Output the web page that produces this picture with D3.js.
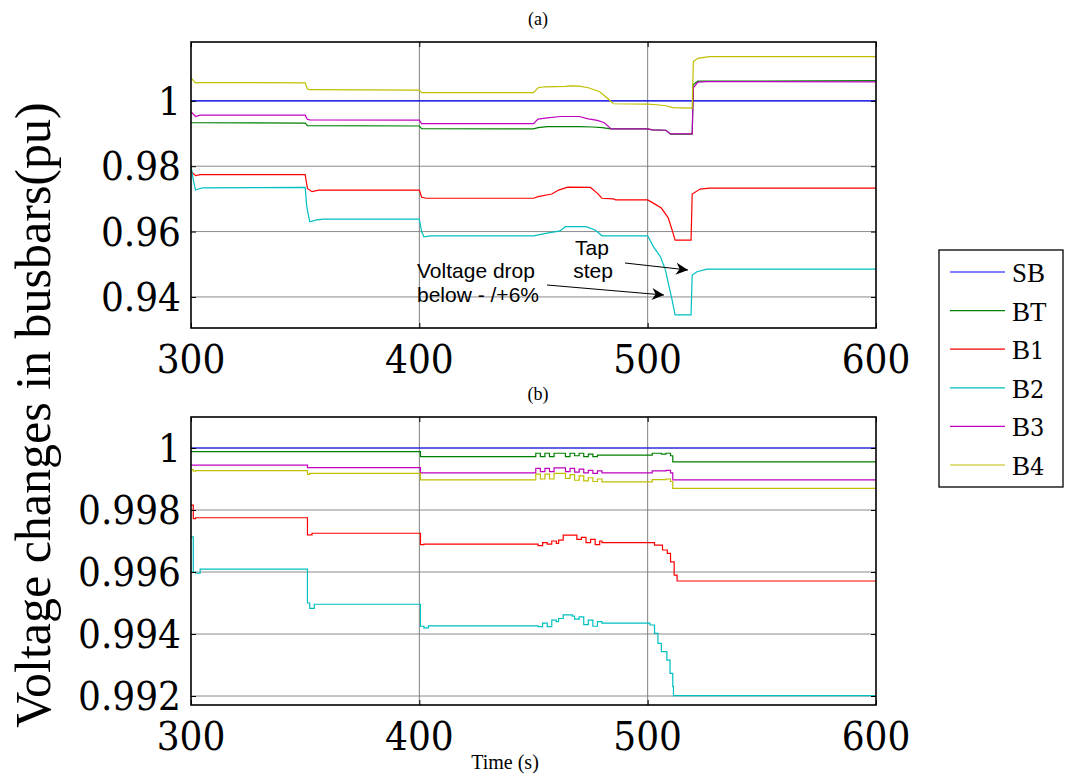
<!DOCTYPE html>
<html>
<head>
<meta charset="utf-8">
<script src="https://cdn.jsdelivr.net/npm/d3@7"></script>
<style>
  html, body { margin: 0; padding: 0; background: #fff; }
  svg { display: block; }
</style>
</head>
<body>
<svg id="chart" width="1067" height="777"></svg>
<script>
// ---------------- DATA ----------------
const seriesNames = ["SB", "BT", "B1", "B2", "B3", "B4"];
const xTicks = [300, 400, 500, 600];
const yTicksA = [0.94, 0.96, 0.98, 1];
const yTicksB = [0.992, 0.994, 0.996, 0.998, 1];
const xDomain = [300, 600];
const yDomainA = [0.9305, 1.018];
const yDomainB = [0.99171, 1.001];

// Panel (a): [time s, voltage pu]
const a_SB = [[300, 1.0], [600, 1.0]];
const a_BT = [[300,0.9933],[350,0.9932],[351,0.9924],[400,0.9923],[401,0.9915],[450,0.9914],[452,0.9918],[456,0.9921],[470,0.9921],[476,0.9920],[480,0.9918],[484,0.9914],[500,0.9914],[502,0.9911],[508,0.9910],[510,0.9898],[519.5,0.9898],[520,1.0050],[522,1.0060],[600,1.0062]];
const a_B1 = [[300,0.9784],[302,0.9771],[304,0.9774],[350,0.9774],[351,0.9732],[353,0.9722],[356,0.9727],[400,0.9727],[401,0.9705],[403,0.9702],[450,0.9702],[452,0.9707],[458,0.9715],[461,0.9727],[465,0.9736],[475,0.9735],[478,0.9717],[480,0.9702],[485,0.9700],[486,0.9697],[500,0.9697],[502.5,0.9687],[506,0.9672],[509,0.9642],[510.7,0.9605],[512,0.9574],[519,0.9574],[519.5,0.9715],[523,0.9730],[527,0.9733],[600,0.9733]];
const a_B2 = [[300,0.9800],[301,0.9758],[302,0.9727],[305,0.9734],[350,0.9735],[350.7,0.9676],[352,0.9630],[355,0.9636],[358,0.9638],[400,0.9638],[401,0.9600],[402,0.9584],[405,0.9587],[450,0.9587],[456,0.9595],[461.6,0.9602],[464,0.9615],[473,0.9615],[477,0.9605],[480,0.9587],[500,0.9587],[501,0.9574],[502.5,0.9554],[505.6,0.9523],[507.8,0.9482],[509,0.9443],[510.7,0.9391],[512,0.9345],[519,0.9345],[519.5,0.9467],[521.6,0.9477],[526,0.9485],[600,0.9485]];
const a_B3 = [[300,0.9967],[302,0.9952],[304,0.9956],[350,0.9956],[351,0.9943],[352,0.9942],[400,0.9941],[401,0.9930],[450,0.9930],[452,0.9944],[456,0.9948],[462,0.9952],[470,0.9952],[474,0.9945],[478,0.9940],[481,0.9933],[484,0.9914],[500,0.9914],[502,0.9911],[508,0.9910],[510,0.9899],[519.5,0.9899],[520,1.0040],[522,1.0057],[526,1.0059],[600,1.0058]];
const a_B4 = [[300,1.0070],[302,1.0055],[304,1.0056],[350,1.0055],[351,1.0036],[352,1.0034],[400,1.0033],[401,1.0025],[450,1.0025],[452,1.0040],[455,1.0043],[464,1.0044],[466,1.0046],[470,1.0045],[474,1.0040],[479,1.0028],[482,1.0010],[485,0.9991],[500,0.9990],[504,0.9988],[508,0.9985],[511,0.9979],[519.5,0.9978],[520,1.0120],[522,1.0130],[527,1.0135],[600,1.0135]];

// Panel (b)
const b_SB = [[300, 1.0], [600, 1.0]];
const b_BT = [[300,0.99988],[400,0.99988],[400.5,0.99972],[450,0.99972],[451,0.99983],[453,0.99972],[455,0.99983],[457,0.99972],[459,0.99983],[463,0.99983],[464,0.99972],[466,0.99983],[468,0.99975],[470,0.99983],[472,0.99972],[474,0.99980],[476,0.99972],[478,0.99977],[500,0.99977],[502,0.99983],[506,0.99980],[508,0.99983],[510,0.99975],[511,0.99955],[600,0.99955]];
const b_B1 = [[300,0.99816],[301,0.99772],[302,0.99775],[350,0.99775],[351,0.99720],[353,0.99725],[400,0.99725],[400.5,0.99688],[402,0.99690],[450,0.99690],[452,0.99685],[454,0.99695],[456,0.99690],[458,0.99700],[460,0.99692],[461,0.99703],[463,0.99719],[468,0.99719],[469,0.99705],[471,0.99712],[473,0.99695],[475,0.99705],[477,0.99688],[479,0.99700],[480,0.99695],[500,0.99695],[503,0.99687],[506.5,0.99671],[508.6,0.99660],[510,0.99633],[511.6,0.99590],[512.9,0.99571],[600,0.99571]];
const b_B2 = [[300,0.99713],[301,0.99600],[302,0.99596],[304,0.99609],[350,0.99609],[351,0.99500],[352,0.99483],[354,0.99496],[400,0.99496],[400.5,0.99425],[402,0.99420],[404,0.99426],[450,0.99426],[452,0.99424],[454,0.99435],[456,0.99424],[458,0.99445],[460,0.99440],[461,0.99450],[463,0.99462],[467,0.99458],[468,0.99448],[470,0.99455],[472,0.99430],[474,0.99445],[476,0.99425],[478,0.99440],[480,0.99435],[500,0.99435],[501,0.99429],[503,0.99402],[504.5,0.99370],[506,0.99343],[508.4,0.99316],[509.8,0.99273],[511,0.99230],[511.3,0.99201],[600,0.99201]];
const b_B3 = [[300,0.99945],[350,0.99945],[351,0.99937],[400,0.99937],[400.5,0.99920],[450,0.99920],[451,0.99934],[453,0.99924],[455,0.99934],[457,0.99924],[459,0.99936],[463,0.99936],[464,0.99924],[466,0.99934],[468,0.99922],[470,0.99932],[472,0.99920],[474,0.99928],[476,0.99918],[478,0.99926],[480,0.99920],[500,0.99920],[502,0.99926],[508,0.99928],[510,0.99920],[511,0.99897],[600,0.99897]];
const b_B4 = [[300,0.99930],[301,0.99925],[302,0.99927],[350,0.99927],[351,0.99915],[352,0.99918],[400,0.99918],[400.5,0.99897],[450,0.99897],[451,0.99916],[453,0.99900],[455,0.99916],[457,0.99900],[459,0.99918],[463,0.99918],[464,0.99902],[466,0.99914],[468,0.99896],[470,0.99910],[472,0.99894],[474,0.99904],[476,0.99892],[478,0.99900],[480,0.99891],[500,0.99891],[502,0.99898],[508,0.99900],[510,0.99892],[511,0.99870],[600,0.99870]];

const panelA = [a_SB, a_BT, a_B1, a_B2, a_B3, a_B4];
const panelB = [b_SB, b_BT, b_B1, b_B2, b_B3, b_B4];

// ---------------- STYLE ----------------
const colors = ["#0000ff", "#008000", "#ff0000", "#00bfbf", "#bf00bf", "#bfbf00"];
const serif = "Liberation Serif";
const numSerif = "'DejaVu Serif Condensed', 'DejaVu Serif', serif";
const sans = "Liberation Sans";

const svg = d3.select("#chart");
const X0 = 191, X1 = 876;

function fmt(v) { return v === 1 ? "1" : String(+v.toFixed(3)); }

function drawPanel(data, yDomain, yTicks, top, bottom, title, curve) {
  const x = d3.scaleLinear().domain(xDomain).range([X0, X1]);
  const y = d3.scaleLinear().domain(yDomain).range([bottom, top]);
  const g = svg.append("g");

  g.append("g").selectAll("line").data(yTicks).join("line")
    .attr("x1", X0).attr("x2", X1)
    .attr("y1", d => y(d)).attr("y2", d => y(d))
    .attr("stroke", "#8a8a8a").attr("stroke-width", 1);
  g.append("g").selectAll("line").data(xTicks.slice(1, -1)).join("line")
    .attr("x1", d => x(d)).attr("x2", d => x(d))
    .attr("y1", top).attr("y2", bottom)
    .attr("stroke", "#808080").attr("stroke-width", 1);

  const line = d3.line().curve(curve).x(d => x(d[0])).y(d => y(d[1]));
  const clipId = "clip" + top;
  svg.append("clipPath").attr("id", clipId).append("rect")
    .attr("x", X0).attr("y", top).attr("width", X1 - X0).attr("height", bottom - top);
  const lg = g.append("g").attr("clip-path", `url(#${clipId})`);
  data.forEach((s, i) => {
    lg.append("path").datum(s).attr("d", line)
      .attr("fill", "none").attr("stroke", colors[i]).attr("stroke-width", 1.2);
  });

  const axL = d3.axisLeft(y).tickValues(yTicks).tickSize(-5).tickFormat("");
  const axR = d3.axisRight(y).tickValues(yTicks).tickSize(-5).tickFormat("");
  const axB = d3.axisBottom(x).tickValues(xTicks).tickSize(-5).tickFormat("");
  const axT = d3.axisTop(x).tickValues(xTicks).tickSize(-5).tickFormat("");
  const styleAx = sel => {
    sel.select(".domain").remove();
    sel.selectAll(".tick line").attr("stroke", "#000").attr("stroke-width", 1);
  };
  g.append("g").attr("transform", `translate(${X0},0)`).call(axL).call(styleAx);
  g.append("g").attr("transform", `translate(${X1},0)`).call(axR).call(styleAx);
  g.append("g").attr("transform", `translate(0,${bottom})`).call(axB).call(styleAx);
  g.append("g").attr("transform", `translate(0,${top})`).call(axT).call(styleAx);

  const labs = g.append("g").attr("font-family", numSerif).attr("font-size", 40).attr("fill", "#000");
  labs.append("g").selectAll("text").data(yTicks).join("text")
    .attr("x", X0 - 10).attr("y", d => y(d) + 14)
    .attr("text-anchor", "end").text(fmt);
  labs.append("g").selectAll("text").data(xTicks).join("text")
    .attr("x", d => x(d)).attr("y", bottom + 45)
    .attr("text-anchor", "middle").text(d => String(d));

  g.append("rect").attr("x", X0).attr("y", top).attr("width", X1 - X0).attr("height", bottom - top)
    .attr("fill", "none").attr("stroke", "#000").attr("stroke-width", 1.6);

  svg.append("text").attr("x", 538).attr("y", top - 17).attr("text-anchor", "middle")
    .attr("font-family", serif).attr("font-size", 18).text(title);
}

drawPanel(panelA, yDomainA, yTicksA, 42, 328, "(a)", d3.curveLinear);
drawPanel(panelB, yDomainB, yTicksB, 417, 705, "(b)", d3.curveStepAfter);

svg.append("text")
  .attr("transform", "translate(50,415) rotate(-90)")
  .attr("text-anchor", "middle")
  .attr("font-family", serif).attr("font-size", 50)
  .text("Voltage changes in busbars(pu)");

svg.append("text").attr("x", 505).attr("y", 769).attr("text-anchor", "middle")
  .attr("font-family", serif).attr("font-size", 20).text("Time (s)");

const defs = svg.append("defs");
defs.append("marker").attr("id", "arr").attr("viewBox", "0 0 10 10")
  .attr("refX", 10).attr("refY", 5).attr("markerWidth", 16).attr("markerHeight", 12)
  .attr("markerUnits", "userSpaceOnUse").attr("orient", "auto")
  .append("path").attr("d", "M0,0 L10,5 L0,10 L3,5 Z").attr("fill", "#000");

svg.append("line").attr("x1", 625).attr("y1", 263).attr("x2", 688).attr("y2", 270)
  .attr("stroke", "#000").attr("stroke-width", 1.2).attr("marker-end", "url(#arr)");
svg.append("line").attr("x1", 547).attr("y1", 285).attr("x2", 664).attr("y2", 295)
  .attr("stroke", "#000").attr("stroke-width", 1.2).attr("marker-end", "url(#arr)");

const ann = [
  { t: "Tap", x: 592, y: 255, a: "middle" },
  { t: "step", x: 593, y: 278, a: "middle" },
  { t: "Voltage drop", x: 417, y: 278, a: "start" },
  { t: "below - /+6%", x: 417, y: 302, a: "start" }
];
ann.forEach(d => {
  svg.append("text").attr("x", d.x).attr("y", d.y).attr("text-anchor", d.a)
    .attr("font-family", sans).attr("font-size", 21).attr("fill", "#000").text(d.t);
});

const lgd = svg.append("g");
lgd.append("rect").attr("x", 939).attr("y", 250).attr("width", 124).attr("height", 237)
  .attr("fill", "#fff").attr("stroke", "#000").attr("stroke-width", 1.3);
const legY = d3.scalePoint().domain(seriesNames).range([272, 465]);
seriesNames.forEach((n, i) => {
  lgd.append("line").attr("x1", 950).attr("x2", 1005)
    .attr("y1", legY(n)).attr("y2", legY(n))
    .attr("stroke", colors[i]).attr("stroke-width", 1.2);
  const t = lgd.append("text").attr("x", 1012).attr("y", legY(n) + 10)
    .attr("font-family", serif).attr("font-size", 27).attr("fill", "#000");
  t.append("tspan").text(n[0]);
  t.append("tspan").attr("font-family", /[0-9]/.test(n[1]) ? numSerif : serif)
    .attr("font-size", /[0-9]/.test(n[1]) ? 25 : 27).text(n.slice(1));
});
</script>
</body>
</html>
